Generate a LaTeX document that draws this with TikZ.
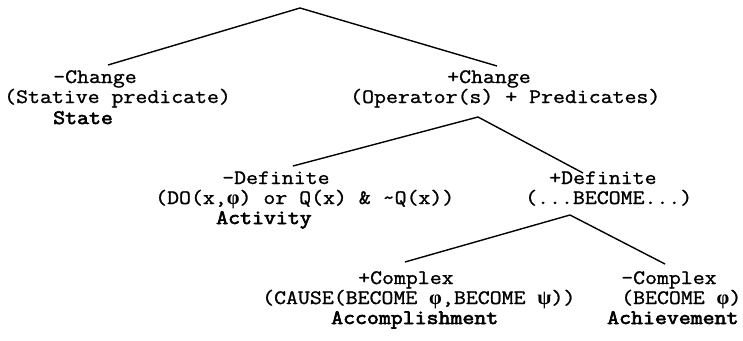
\documentclass[tikz,border=0pt]{standalone}
\usepackage{fontspec}
\setmonofont{Latin Modern Mono}[FakeStretch=1.13, UprightFeatures={FakeBold=1.2},
	BoldFont={Latin Modern Mono}, BoldFeatures={FakeBold=3}]
\newfontfamily\grk{Liberation Serif}
\newcommand\gphi{{\grk\bfseries φ}}
\newcommand\gpsi{{\grk\bfseries ψ}}
\usepackage{tikz}

\begin{document}
\begin{tikzpicture}[x=1pt,y=-1pt,
		every node/.style={inner sep=0pt, anchor=base west, font=\ttfamily\fontsize{20.5}{20.5}\selectfont},
		every edge/.style={draw, line width=1.4pt}]
			\useasboundingbox (0,0) rectangle (743,340);

			\node (nchg) at (53,83) {-Change};
			\node (nchgf) at (4,103) {(Stative predicate)};
			\node (state) at (53,124) {\textbf{State}};

			\node (pchg) at (447,83) {+Change};
			\node (pchgf) at (350,103) {(Operator(s) + Predicates)};

			\node (ndef) at (222,184) {-Definite};
			\node (ndeff) at (155,204) {(DO(x,\gphi) or Q(x) \& \textasciitilde Q(x))};
			\node (activity) at (216,224) {\textbf{Activity}};

			\node (pdef) at (549,184) {+Definite};
			\node (pdeff) at (525,204) {(...BECOME...)};

			\node (pcx) at (358,284) {+Complex};
			\node (pcxf) at (262,304) {(CAUSE(BECOME \gphi,BECOME \gpsi))};
			\node (accomp) at (331,324) {\textbf{Accomplishment}};

			\node (ncx) at (621,284) {-Complex};
			\node (ncxf) at (621,304) {(BECOME \gphi)};
			\node (achieve) at (607,324) {\textbf{Achievement}};

			\coordinate (root) at (300,8);
			\coordinate (nchgtop) at (108,65);
			\coordinate (pchgtop) at (497,66);
			\coordinate (opv) at (478,117);
			\coordinate (ndeftop) at (293,166);
			\coordinate (pdeftop) at (583,173);
			\coordinate (becv) at (570,215);
			\coordinate (pcxtop) at (405,262);
			\coordinate (ncxtop) at (665,264);

			\path (root) edge (nchgtop);
			\path (root) edge (pchgtop);
			\path (opv) edge (ndeftop);
			\path (opv) edge (pdeftop);
			\path (becv) edge (pcxtop);
			\path (becv) edge (ncxtop);
\end{tikzpicture}
\end{document}
